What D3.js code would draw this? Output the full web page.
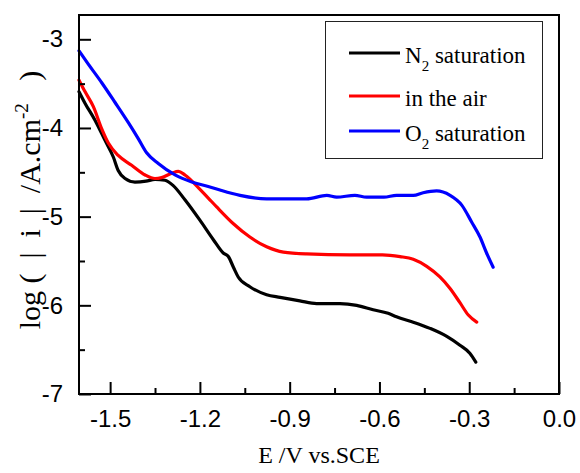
<!DOCTYPE html>
<html>
<head>
<meta charset="utf-8">
<script src="https://cdnjs.cloudflare.com/ajax/libs/d3/7.8.5/d3.min.js"></script>
<style>
  body { margin: 0; background: #fff; }
  svg { display: block; }
</style>
</head>
<body>
<div id="chart"></div>
<script>
// E (V vs SCE) and log|i|
var n2E = [-1.604, -1.584, -1.551, -1.517, -1.489, -1.473, -1.450, -1.417, -1.380, -1.350, -1.317, -1.289, -1.250, -1.200, -1.155, -1.122, -1.105, -1.088, -1.072, -1.033, -0.977, -0.932, -0.866, -0.810, -0.732, -0.676, -0.621, -0.571, -0.543, -0.487, -0.431, -0.375, -0.331, -0.298, -0.278];
var n2Log = [-3.59, -3.72, -3.91, -4.14, -4.33, -4.48, -4.57, -4.61, -4.60, -4.58, -4.59, -4.65, -4.81, -5.04, -5.26, -5.41, -5.45, -5.57, -5.68, -5.79, -5.88, -5.91, -5.95, -5.98, -5.98, -6.00, -6.05, -6.09, -6.13, -6.19, -6.26, -6.35, -6.45, -6.54, -6.64];

var airE = [-1.604, -1.584, -1.556, -1.528, -1.506, -1.473, -1.428, -1.383, -1.350, -1.328, -1.294, -1.272, -1.250, -1.203, -1.172, -1.144, -1.088, -1.033, -0.977, -0.921, -0.843, -0.699, -0.590, -0.531, -0.487, -0.442, -0.398, -0.364, -0.331, -0.303, -0.275];
var airLog = [-3.46, -3.59, -3.76, -4.01, -4.17, -4.31, -4.42, -4.53, -4.57, -4.56, -4.51, -4.49, -4.53, -4.68, -4.79, -4.89, -5.08, -5.23, -5.34, -5.40, -5.42, -5.43, -5.43, -5.45, -5.48, -5.56, -5.68, -5.81, -5.97, -6.11, -6.19];

var o2E = [-1.604, -1.573, -1.528, -1.484, -1.439, -1.406, -1.378, -1.339, -1.283, -1.227, -1.172, -1.133, -1.066, -0.977, -0.843, -0.776, -0.743, -0.682, -0.643, -0.585, -0.543, -0.487, -0.454, -0.409, -0.364, -0.325, -0.292, -0.264, -0.242, -0.220];
var o2Log = [-3.13, -3.28, -3.49, -3.71, -3.94, -4.12, -4.28, -4.40, -4.53, -4.61, -4.66, -4.70, -4.76, -4.80, -4.80, -4.76, -4.78, -4.76, -4.78, -4.78, -4.76, -4.76, -4.73, -4.71, -4.76, -4.87, -5.06, -5.23, -5.41, -5.57];

var seriesNames = ["N2 saturation", "in the air", "O2 saturation"];
var seriesColors = ["#000000", "#ff0000", "#0000ff"];

var xTicks = [-1.5, -1.2, -0.9, -0.6, -0.3, 0.0];
var xMinor = [-1.35, -1.05, -0.75, -0.45, -0.15];
var yTicks = [-7, -6, -5, -4, -3];
var yMinor = [-6.5, -5.5, -4.5, -3.5];

var W = 580, H = 473;
var plotL = 79, plotR = 559, plotT = 15, plotB = 394;

var svg = d3.select("#chart")
  .append("svg")
    .attr("width", W)
    .attr("height", H);

var x = d3.scaleLinear().domain([-1.604, 0]).range([plotL, plotR]);
var y = d3.scaleLinear().domain([-7, -2.726]).range([plotB, plotT]);

function zip(es, ls) {
  return es.map(function(e, i) { return {e: e, v: ls[i]}; });
}
var series = [zip(n2E, n2Log), zip(airE, airLog), zip(o2E, o2Log)];

var line = d3.line()
  .x(function(d) { return x(d.e); })
  .y(function(d) { return y(d.v); })
  .curve(d3.curveMonotoneX);

svg.selectAll("path.curve")
  .data(series)
  .enter()
  .append("path")
    .attr("class", "curve")
    .attr("fill", "none")
    .attr("stroke", function(d, i) { return seriesColors[i]; })
    .attr("stroke-width", 3.2)
    .attr("stroke-linejoin", "round")
    .attr("stroke-linecap", "round")
    .attr("d", line);

// axes, ticks pointing inward
svg.append("g")
  .attr("transform", "translate(0," + plotB + ")")
  .call(d3.axisBottom(x).tickValues(xTicks).tickSizeInner(-12).tickSizeOuter(0).tickPadding(16)
    .tickFormat(function(d) { return d.toFixed(1); }));
svg.append("g")
  .attr("transform", "translate(0," + plotB + ")")
  .call(d3.axisBottom(x).tickValues(xMinor).tickSizeInner(-6).tickSizeOuter(0).tickFormat(""));

svg.append("g")
  .attr("transform", "translate(" + plotL + ",0)")
  .call(d3.axisLeft(y).tickValues(yTicks).tickSizeInner(-12).tickSizeOuter(0).tickPadding(16)
    .tickFormat(function(d) { return String(d); }));
svg.append("g")
  .attr("transform", "translate(" + plotL + ",0)")
  .call(d3.axisLeft(y).tickValues(yMinor).tickSizeInner(-6).tickSizeOuter(0).tickFormat(""));

svg.selectAll(".domain").remove();
svg.selectAll(".tick line").attr("stroke", "#000").attr("stroke-width", 2);
svg.selectAll(".tick text")
  .attr("fill", "#000")
  .style("font-family", "'Liberation Sans', Arial, sans-serif")
  .style("font-size", "24px");

// frame
svg.append("rect")
  .attr("x", plotL)
  .attr("y", plotT)
  .attr("width", plotR - plotL)
  .attr("height", plotB - plotT)
  .attr("fill", "none")
  .attr("stroke", "#000")
  .attr("stroke-width", 2);

// axis titles
svg.append("text")
  .attr("x", (plotL + plotR) / 2)
  .attr("y", 463)
  .attr("text-anchor", "middle")
  .style("font-family", "'Liberation Serif', 'Times New Roman', serif")
  .style("font-size", "24px")
  .text("E /V vs.SCE");

var yTitle = svg.append("text")
  .attr("transform", "translate(40,200) rotate(-90)")
  .attr("text-anchor", "middle")
  .attr("xml:space", "preserve")
  .style("font-family", "'Liberation Serif', 'Times New Roman', serif")
  .style("font-size", "30px");
yTitle.append("tspan").text("log (  |  i  |  /A.cm");
yTitle.append("tspan").attr("dy", -12).style("font-size", "19px").text("-2");
yTitle.append("tspan").attr("dy", 12).text("   )");

// legend
var legend = svg.append("g");
legend.append("rect")
  .attr("x", 325.5)
  .attr("y", 21.5)
  .attr("width", 217)
  .attr("height", 137)
  .attr("fill", "#fff")
  .attr("stroke", "#222")
  .attr("stroke-width", 1);

var rowY = [53, 96, 131];
seriesNames.forEach(function(name, i) {
  legend.append("line")
    .attr("x1", 349).attr("x2", 400)
    .attr("y1", rowY[i]).attr("y2", rowY[i])
    .attr("stroke", seriesColors[i])
    .attr("stroke-width", 3);
  var t = legend.append("text")
    .attr("x", 405)
    .attr("y", rowY[i] + 10)
    .style("font-family", "'Liberation Serif', 'Times New Roman', serif")
    .style("font-size", "23px");
  if (name.indexOf("2") === 1) {
    t.append("tspan").text(name.charAt(0));
    t.append("tspan").attr("dy", 8).style("font-size", "15px").text("2");
    t.append("tspan").attr("dy", -8).text(name.slice(2));
  } else {
    t.text(name);
  }
});
</script>
</body>
</html>
